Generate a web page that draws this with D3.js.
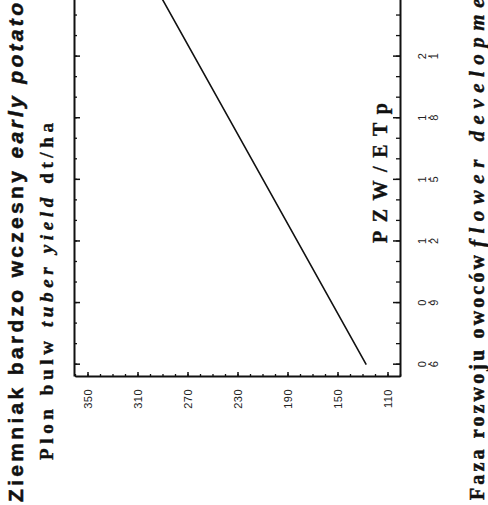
<!DOCTYPE html>
<html>
<head>
<meta charset="utf-8">
<script src="https://cdn.jsdelivr.net/npm/d3@7/dist/d3.min.js"></script>
<style>
body { margin: 0; background: #fff; }
</style>
</head>
<body>
<div id="chart"></div>
<script>
// data (PZW/ETp -> tuber yield dt/ha)
var pzwTicks = [0.6, 0.9, 1.2, 1.5, 1.8, 2.1, 2.4];
var pzwMinor = [0.6, 0.7, 0.8, 0.9, 1.0, 1.1, 1.2, 1.3, 1.4, 1.5, 1.6, 1.7, 1.8, 1.9, 2.0, 2.1, 2.2, 2.3, 2.4];
var yieldTicks = [110, 150, 190, 230, 270, 310, 350];
var yieldMinor = [100, 110, 120, 130, 140, 150, 160, 170, 180, 190, 200, 210, 220, 230, 240, 250, 260, 270, 280, 290, 300, 310, 320, 330, 340, 350, 360];
var pzw = [0.6, 1.2, 1.8, 2.4];
var yieldVals = [127, 182, 237, 292];

// the whole figure is printed turned on its side, so draw it upright and rotate
var W = 505, H = 488;

var svg = d3.select('#chart')
    .append('svg')
    .attr('width', H)
    .attr('height', W)
    .style('background', '#fff');

var g = svg.append('g')
    .attr('transform', 'translate(0,' + W + ') rotate(-90)');

var x = d3.scaleLinear().domain([0.54, 2.4]).range([128, 510]);
var y = d3.scaleLinear().domain([100, 360]).range([400, 75]);

function styleAxis(sel, w) {
  sel.selectAll('path').attr('stroke', '#111').attr('stroke-width', 2);
  sel.selectAll('line').attr('stroke', '#111').attr('stroke-width', w);
}

// bottom axis (PZW/ETp)
var xAx = g.append('g')
    .attr('transform', 'translate(0,400)')
    .call(d3.axisBottom(x).tickValues(pzwTicks).tickSizeInner(-7).tickSizeOuter(0)
      .tickFormat(d3.format('.1f')));
styleAxis(xAx, 1.5);
g.append('g')
    .attr('transform', 'translate(0,400)')
    .call(d3.axisBottom(x).tickValues(pzwMinor).tickSizeInner(-4).tickSizeOuter(0).tickFormat(''))
    .call(function(s) { s.select('.domain').remove(); styleAxis(s, 1.3); });

// stacked tick labels as in the print
xAx.selectAll('text')
    .attr('font-family', 'Liberation Sans, Arial, sans-serif')
    .attr('font-size', 11)
    .attr('fill', '#222')
    .each(function() {
      var t = d3.select(this), s = t.text(), prev = null, first = true;
      t.text('').attr('y', null).attr('dy', null);
      s.split('').forEach(function(c) {
        var dy = first ? 26 : (c === '.' ? 4 : (prev === '.' ? 8 : 8.5));
        t.append('tspan').attr('x', 0).attr('dy', dy)
          .attr('font-weight', c === '.' ? 'bold' : null).text(c);
        prev = c; first = false;
      });
    });

// top frame
g.append('g')
    .attr('transform', 'translate(0,74)')
    .call(d3.axisTop(x).tickValues(pzwTicks).tickSizeInner(-6).tickSizeOuter(0).tickFormat(''))
    .call(function(s) { styleAxis(s, 1.5); });
g.append('g')
    .attr('transform', 'translate(0,74)')
    .call(d3.axisTop(x).tickValues(pzwMinor).tickSizeInner(-3).tickSizeOuter(0).tickFormat(''))
    .call(function(s) { s.select('.domain').remove(); styleAxis(s, 1.3); });

// left axis (yield)
var yAx = g.append('g')
    .attr('transform', 'translate(128,0)')
    .call(d3.axisLeft(y).tickValues(yieldTicks).tickSizeInner(-5).tickSizeOuter(0).tickPadding(12));
styleAxis(yAx, 1.5);
yAx.selectAll('text')
    .attr('font-family', 'Liberation Sans, Arial, sans-serif')
    .attr('font-size', 11)
    .attr('letter-spacing', 0.5)
    .attr('fill', '#222');
g.append('g')
    .attr('transform', 'translate(128,0)')
    .call(d3.axisLeft(y).tickValues(yieldMinor).tickSizeInner(-3).tickSizeOuter(0).tickFormat(''))
    .call(function(s) { s.select('.domain').remove(); styleAxis(s, 1.3); });

// the regression line
var line = d3.line()
    .x(function(d, i) { return x(pzw[i]); })
    .y(function(d) { return y(d); });
g.append('path')
    .datum(yieldVals)
    .attr('d', line)
    .attr('fill', 'none')
    .attr('stroke', '#111')
    .attr('stroke-width', 1.6);

// titles
var t1 = g.append('text')
    .attr('x', 3).attr('y', 23)
    .attr('font-family', 'Liberation Sans, Arial, sans-serif')
    .attr('font-weight', 'bold')
    .attr('font-size', 21)
    .attr('fill', '#111')
    .attr('stroke', '#111').attr('stroke-width', 0.5)
    .attr('textLength', 499)
    .attr('lengthAdjust', 'spacing');
t1.append('tspan').text('Ziemniak bardzo wczesny ');
t1.append('tspan').attr('font-style', 'italic').text('early potato');

var t2 = g.append('text')
    .attr('x', 45).attr('y', 53)
    .attr('font-family', 'Liberation Serif, Times New Roman, serif')
    .attr('font-weight', 'bold')
    .attr('font-size', 19)
    .attr('fill', '#111')
    .attr('stroke', '#111').attr('stroke-width', 0.4)
    .attr('textLength', 337)
    .attr('lengthAdjust', 'spacing');
t2.append('tspan').text('Plon bulw ');
t2.append('tspan').attr('font-style', 'italic').text('tuber yield');
t2.append('tspan').text(' dt/ha');

g.append('text')
    .attr('x', 262).attr('y', 387)
    .attr('font-family', 'Liberation Serif, Times New Roman, serif')
    .attr('font-weight', 'bold')
    .attr('font-size', 20)
    .attr('fill', '#111')
    .attr('stroke', '#111').attr('stroke-width', 0.4)
    .attr('textLength', 140)
    .attr('lengthAdjust', 'spacing')
    .text('PZW/ETp');

g.append('text')
    .attr('x', 5).attr('y', 484)
    .attr('font-family', 'Liberation Serif, Times New Roman, serif')
    .attr('font-weight', 'bold')
    .attr('font-size', 20)
    .attr('fill', '#111')
    .attr('stroke', '#111').attr('stroke-width', 0.5)
    .attr('textLength', 245)
    .attr('lengthAdjust', 'spacing')
    .text('Faza rozwoju owoców');
g.append('text')
    .attr('x', 258).attr('y', 484)
    .attr('font-family', 'Liberation Serif, Times New Roman, serif')
    .attr('font-weight', 'bold')
    .attr('font-style', 'italic')
    .attr('font-size', 21)
    .attr('letter-spacing', 6.5)
    .attr('fill', '#111')
    .attr('stroke', '#111').attr('stroke-width', 0.4)
    .text('flower development');
</script>
</body>
</html>
